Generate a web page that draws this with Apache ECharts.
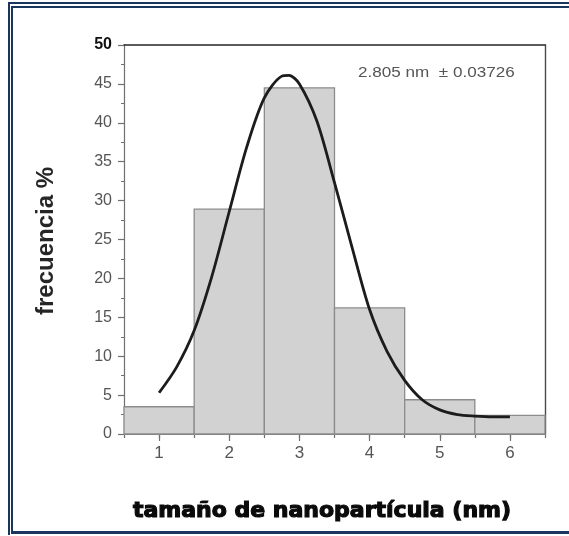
<!DOCTYPE html>
<html>
<head>
<meta charset="utf-8">
<script src="https://cdn.jsdelivr.net/npm/echarts@6/dist/echarts.min.js"></script>
<style>
  html, body { margin: 0; padding: 0; background: #ffffff; }
  #chart { width: 569px; height: 536px; }
</style>
</head>
<body>
<div id="chart"></div>
<script>
// Histogram bins: centre of each 1 nm bin and its frequency (%)
const binCenters = [1, 2, 3, 4, 5, 6];
const frequencies = [3.5, 28.9, 44.5, 16.2, 4.4, 2.4];
const binWidth = 1;

// Fitted size-distribution curve, [size nm, frequency %]
const fitSizes = [1.0, 1.25, 1.5, 1.75, 2.0, 2.25, 2.5, 2.75, 2.85, 3.0, 3.25, 3.5, 3.75, 4.0, 4.25, 4.5, 4.75, 5.0, 5.25, 5.5, 5.75, 6.0];
const fitValues = [5.3, 8.6, 13.3, 20.2, 28.6, 36.9, 43.2, 46.0, 46.1, 45.0, 40.2, 32.3, 24.0, 16.0, 10.6, 6.9, 4.4, 3.1, 2.5, 2.3, 2.2, 2.2];

// Axis tick labels
const xTickLabels = [1, 2, 3, 4, 5, 6];
const yTickLabels = [0, 5, 10, 15, 20, 25, 30, 35, 40, 45, 50];

const meanLabel = '2.805 nm  \u00b1 0.03726';
const xTitle = 'tamaño de nanopartícula (nm)';
const yTitle = 'frecuencia %';

const navy = '#19365f';
const axisGray = '#707070';
const labelGray = '#555555';

const chart = echarts.init(document.getElementById('chart'), null, { renderer: 'canvas' });

const xRange = { min: 0.5, max: 6.5 };
const yRange = { min: yTickLabels[0], max: yTickLabels[yTickLabels.length - 1] };

chart.setOption({
  backgroundColor: '#ffffff',
  animation: false,
  grid: { left: 124, top: 45, right: 24, bottom: 102, containLabel: false },
  xAxis: [
    {
      type: 'value', position: 'bottom', min: xRange.min, max: xRange.max,
      axisLine: { show: true, lineStyle: { color: axisGray, width: 1.2 } },
      axisTick: { show: true, customValues: xTickLabels, length: 7, lineStyle: { color: axisGray, width: 1.2 } },
      axisLabel: {
        customValues: xTickLabels, margin: 11, fontSize: 17,
        fontFamily: 'Liberation Sans, Arial, sans-serif', color: labelGray
      },
      splitLine: { show: false }
    },
    {
      // half-integer ticks at the bin edges
      type: 'value', position: 'bottom', min: xRange.min, max: xRange.max, interval: 0.5,
      axisLine: { show: false },
      axisTick: { show: true, length: 4, lineStyle: { color: axisGray, width: 1.2 } },
      axisLabel: { show: false },
      splitLine: { show: false }
    },
    {
      // closing frame line along the top
      type: 'value', position: 'top', min: xRange.min, max: xRange.max,
      axisLine: { show: true, lineStyle: { color: '#262626', width: 1.6 } },
      axisTick: { show: false }, axisLabel: { show: false }, splitLine: { show: false }
    }
  ],
  yAxis: [
    {
      type: 'value', position: 'left', min: yRange.min, max: yRange.max, interval: 5,
      axisLine: { show: true, lineStyle: { color: axisGray, width: 1.2 } },
      axisTick: { show: true, length: 6, lineStyle: { color: axisGray, width: 1.2 } },
      minorTick: { show: true, splitNumber: 2, length: 3, lineStyle: { color: axisGray, width: 1 } },
      axisLabel: {
        margin: 12, fontSize: 16, fontFamily: 'Liberation Sans, Arial, sans-serif', color: labelGray,
        formatter: v => (v === yRange.max ? '{top|' + v + '}' : String(v)),
        rich: { top: { fontSize: 16, fontWeight: 'bold', color: '#111111', fontFamily: 'Liberation Sans, Arial, sans-serif' } }
      },
      splitLine: { show: false }
    },
    {
      // closing frame line along the right side
      type: 'value', position: 'right', min: yRange.min, max: yRange.max,
      axisLine: { show: true, lineStyle: { color: '#4a4a4a', width: 1.4 } },
      axisTick: { show: false }, axisLabel: { show: false }, splitLine: { show: false }
    }
  ],
  series: [
    {
      type: 'custom',
      xAxisIndex: 0, yAxisIndex: 0,
      data: binCenters.map((c, i) => [c, frequencies[i]]),
      renderItem: function (params, api) {
        const c = api.value(0);
        const v = api.value(1);
        const topLeft = api.coord([c - binWidth / 2, v]);
        const bottomRight = api.coord([c + binWidth / 2, 0]);
        return {
          type: 'rect',
          shape: {
            x: topLeft[0], y: topLeft[1],
            width: bottomRight[0] - topLeft[0],
            height: bottomRight[1] - topLeft[1]
          },
          style: { fill: '#d2d2d2', stroke: '#8c8c8c', lineWidth: 1.3 }
        };
      },
      z: 2
    },
    {
      type: 'line',
      xAxisIndex: 0, yAxisIndex: 0,
      data: fitSizes.map((s, i) => [s, fitValues[i]]),
      smooth: 0.3,
      showSymbol: false,
      lineStyle: { color: '#1c1c1c', width: 2.8 },
      z: 5
    }
  ],
  graphic: [
    // double navy frame: top and left, heavy line at the bottom
    { type: 'rect', shape: { x: 8, y: 2, width: 561, height: 2 }, style: { fill: navy } },
    { type: 'rect', shape: { x: 11, y: 6, width: 558, height: 2 }, style: { fill: navy } },
    { type: 'rect', shape: { x: 8, y: 2, width: 2, height: 533 }, style: { fill: navy } },
    { type: 'rect', shape: { x: 11, y: 6, width: 2, height: 527 }, style: { fill: navy } },
    { type: 'rect', shape: { x: 11, y: 531, width: 558, height: 3 }, style: { fill: navy } },
    {
      type: 'text', x: 358, y: 73, scaleX: 1.14,
      style: {
        text: meanLabel, fill: labelGray, align: 'left', verticalAlign: 'middle',
        font: '15px "Liberation Sans", Arial, sans-serif'
      }
    },
    {
      type: 'text', x: 46, y: 241, rotation: Math.PI / 2,
      style: {
        text: yTitle, fill: '#262626', align: 'center', verticalAlign: 'middle',
        font: 'bold 24px "Liberation Sans", Arial, sans-serif'
      }
    },
    {
      type: 'text', x: 322, y: 511,
      style: {
        text: xTitle, fill: '#0a0a0a', align: 'center', verticalAlign: 'middle',
        stroke: '#0a0a0a', lineWidth: 1.2,
        font: 'bold 22px "DejaVu Sans", sans-serif'
      }
    }
  ]
});
</script>
</body>
</html>
